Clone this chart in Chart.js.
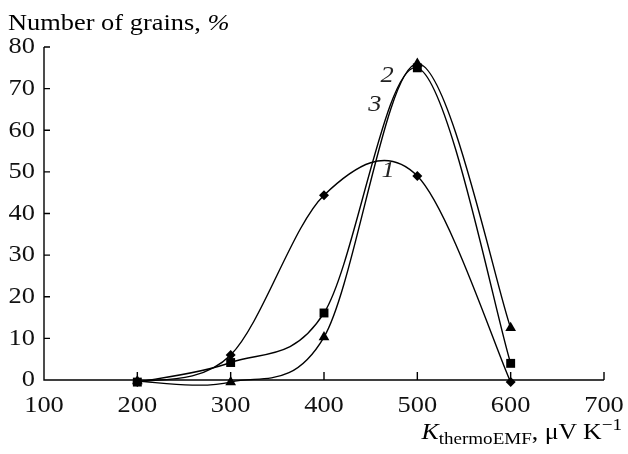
<!DOCTYPE html>
<html><head><meta charset="utf-8">
<script src="https://cdn.jsdelivr.net/npm/chart.js@4/dist/chart.umd.min.js"></script>
<style>
html,body{margin:0;padding:0;background:#fff;}
#wrap{position:relative;width:628px;height:454px;font-family:"Liberation Serif","DejaVu Serif",serif;color:#000;overflow:hidden;}
canvas{position:absolute;left:0;top:0;}
.t{position:absolute;white-space:nowrap;line-height:1;}
</style></head>
<body>
<div id="wrap">
<canvas id="c" width="628" height="454"></canvas>
<div class="t" style="left:8px;top:10px;font-size:24px;transform:scaleX(1.1);transform-origin:left top;">Number of grains, <i>%</i></div>
<div class="t" style="right:6px;top:420px;font-size:23px;transform:scaleX(1.12);transform-origin:right top;"><i>K</i><span style="font-size:17px;position:relative;top:5px;">thermoEMF</span>, μV K<span style="font-size:17px;position:relative;top:-9px;">−1</span></div>
</div>
<script>
const xValues = [200, 300, 400, 500, 600];
const series1 = [-0.5, 6, 44.4, 49, -0.5];   // diamonds, curve 1
const series3 = [-0.5, 4.2, 16.1, 75, 4];    // squares, curve 3
const series2 = [-0.3, -0.5, 10.3, 76, 12.5]; // triangles, curve 2
const xTicks = [100, 200, 300, 400, 500, 600, 700];
const yTicks = [0, 10, 20, 30, 40, 50, 60, 70, 80];
const curveLabels = [{text:'1', x:468.6, y:50.4}, {text:'2', x:467.5, y:73.2}, {text:'3', x:454.6, y:66.2}];

const pts = arr => arr.map((v,i)=>({x:xValues[i], y:v}));
const FONT = '"Liberation Serif", "DejaVu Serif", serif';
const STRETCH = 1.1;

function stretchedText(ctx, text, x, y, align, baseline){
  ctx.save();
  ctx.translate(x, y);
  ctx.scale(STRETCH, 1);
  ctx.textAlign = align; ctx.textBaseline = baseline;
  ctx.fillText(text, 0, 0);
  ctx.restore();
}

// uniform Catmull-Rom style smoothing of the library's own control points
const smoothPlugin = {
  id:'smooth',
  beforeDatasetDraw(chart, args){
    const meta = args.meta, line = meta.dataset, p = meta.data;
    line.updateControlPoints(chart.chartArea, 'x');
    const K = 1/6;
    for (let i=0;i<p.length;i++){
      const prev = p[Math.max(0,i-1)], next = p[Math.min(p.length-1,i+1)];
      const dx = (next.x-prev.x)*K, dy = (next.y-prev.y)*K;
      p[i].cp1x = p[i].x-dx; p[i].cp1y = p[i].y-dy;
      p[i].cp2x = p[i].x+dx; p[i].cp2y = p[i].y+dy;
    }
  }
};

const axisPlugin = {
  id:'axes',
  afterDraw(chart){
    const ctx = chart.ctx, xs = chart.scales.x, ys = chart.scales.y;
    const L = xs.left, R = xs.right, T = ys.top, B = ys.bottom;
    ctx.save();
    ctx.strokeStyle = '#000'; ctx.lineWidth = 1.4;
    ctx.beginPath();
    ctx.moveTo(L, T); ctx.lineTo(L, B); ctx.lineTo(R, B);
    yTicks.forEach(v=>{ const p = ys.getPixelForValue(v); ctx.moveTo(L, p); ctx.lineTo(L+6, p); });
    xTicks.slice(1).forEach(v=>{ const p = xs.getPixelForValue(v); ctx.moveTo(p, B); ctx.lineTo(p, B-8); });
    ctx.stroke();
    ctx.fillStyle = '#111';
    ctx.font = '24px ' + FONT;
    yTicks.forEach(v=> stretchedText(ctx, String(v), L-9, ys.getPixelForValue(v), 'right', 'middle'));
    xTicks.forEach(v=> stretchedText(ctx, String(v), xs.getPixelForValue(v), B+32, 'center', 'alphabetic'));
    ctx.fillStyle = '#222';
    ctx.font = 'italic 24px ' + FONT;
    curveLabels.forEach(l=> stretchedText(ctx, l.text, xs.getPixelForValue(l.x), ys.getPixelForValue(l.y), 'center', 'middle'));
    ctx.restore();
  }
};

const common = {borderColor:'#000', backgroundColor:'#000', borderWidth:1.4, tension:0.4, clip:false, pointBorderWidth:0, fill:false};
new Chart(document.getElementById('c'), {
  type:'line',
  data:{datasets:[
    Object.assign({label:'1', data:pts(series1), pointStyle:'rectRot', pointRadius:5}, common),
    Object.assign({label:'3', data:pts(series3), pointStyle:'rect', pointRadius:6.3}, common),
    Object.assign({label:'2', data:pts(series2), pointStyle:'triangle', pointRadius:6.2}, common)
  ]},
  options:{
    responsive:false, animation:false, devicePixelRatio:1,
    elements:{line:{capBezierPoints:false}},
    layout:{padding:{top:47, right:24, left:0, bottom:0}},
    plugins:{legend:{display:false}, tooltip:{enabled:false}},
    scales:{
      x:{type:'linear', min:100, max:700,
         afterFit(s){ s.height = 74; },
         grid:{display:false, drawTicks:false}, border:{display:false},
         ticks:{display:false}},
      y:{type:'linear', min:0, max:80,
         afterFit(s){ s.width = 44; },
         grid:{display:false, drawTicks:false}, border:{display:false},
         ticks:{display:false}}
    }
  },
  plugins:[smoothPlugin, axisPlugin]
});
</script>
</body></html>
